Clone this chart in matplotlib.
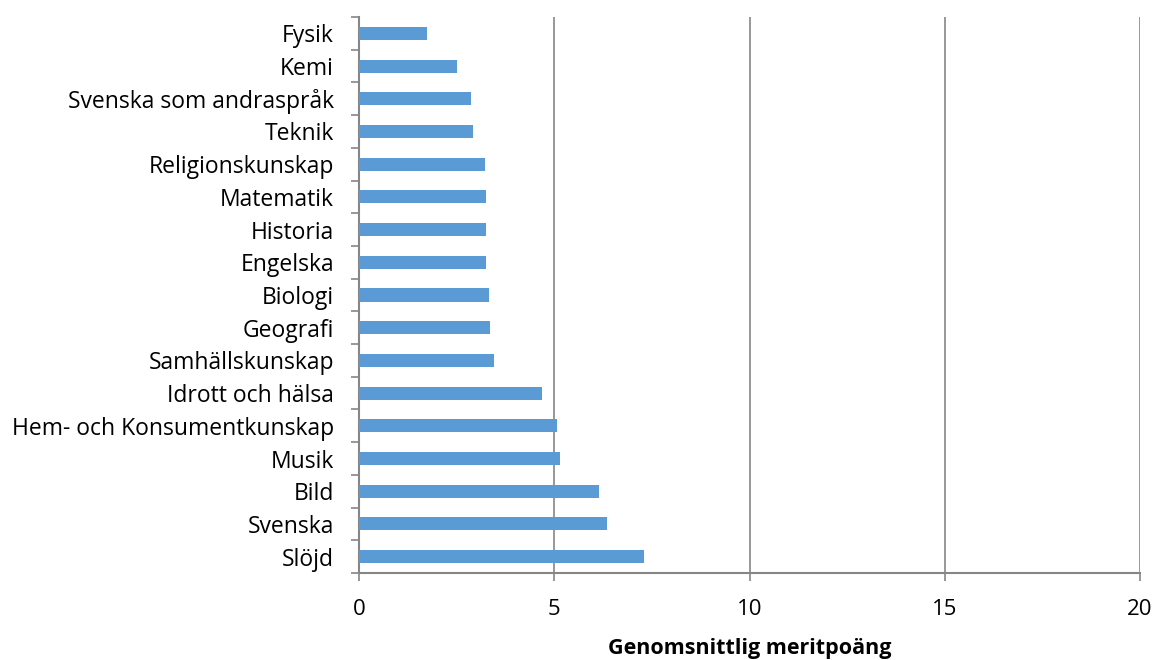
import matplotlib.pyplot as plt
import numpy as np

plt.rcParams['font.family'] = ['Open Sans', 'DejaVu Sans']

subjects = ["Slöjd", "Svenska", "Bild", "Musik", "Hem- och Konsumentkunskap",
            "Idrott och hälsa", "Samhällskunskap", "Geografi", "Biologi",
            "Engelska", "Historia", "Matematik", "Religionskunskap", "Teknik",
            "Svenska som andraspråk", "Kemi", "Fysik"]
values = [7.30, 6.34, 6.14, 5.14, 5.08, 4.68, 3.46, 3.36, 3.33,
          3.26, 3.24, 3.24, 3.22, 2.93, 2.88, 2.52, 1.74]
xticks = [0, 5, 10, 15, 20]

grey = "#868686"

fig = plt.figure(figsize=(11.57, 6.6), dpi=100)
ax = fig.add_axes([359 / 1157, 1 - 573 / 660, 781 / 1157, 556 / 660])

y = np.arange(len(subjects))
ax.barh(y, values, height=0.4, color="#5B9BD5", zorder=3)

ax.set_xlim(0, 20)
ax.set_ylim(-0.5, len(subjects) - 0.5)
ax.set_xticks(xticks)
ax.set_yticks(y)
ax.set_yticklabels(subjects, fontsize=16.5)
ax.set_yticks(np.arange(-0.5, len(subjects), 1), minor=True)
ax.tick_params(axis="y", which="major", length=0, pad=18)
ax.tick_params(axis="y", which="minor", length=6, color=grey, width=1.2)
ax.tick_params(axis="x", length=6, color=grey, width=1.2, labelsize=16, pad=13)

ax.xaxis.grid(True, color=grey, linewidth=1.2, zorder=0)
for s in ["top", "right"]:
    ax.spines[s].set_visible(False)
for s in ["left", "bottom"]:
    ax.spines[s].set_color(grey)
    ax.spines[s].set_linewidth(1.5)

ax.set_xlabel("Genomsnittlig meritpoäng", fontsize=15.5, fontweight="bold", labelpad=13)

fig.savefig("out.png", dpi=100)
